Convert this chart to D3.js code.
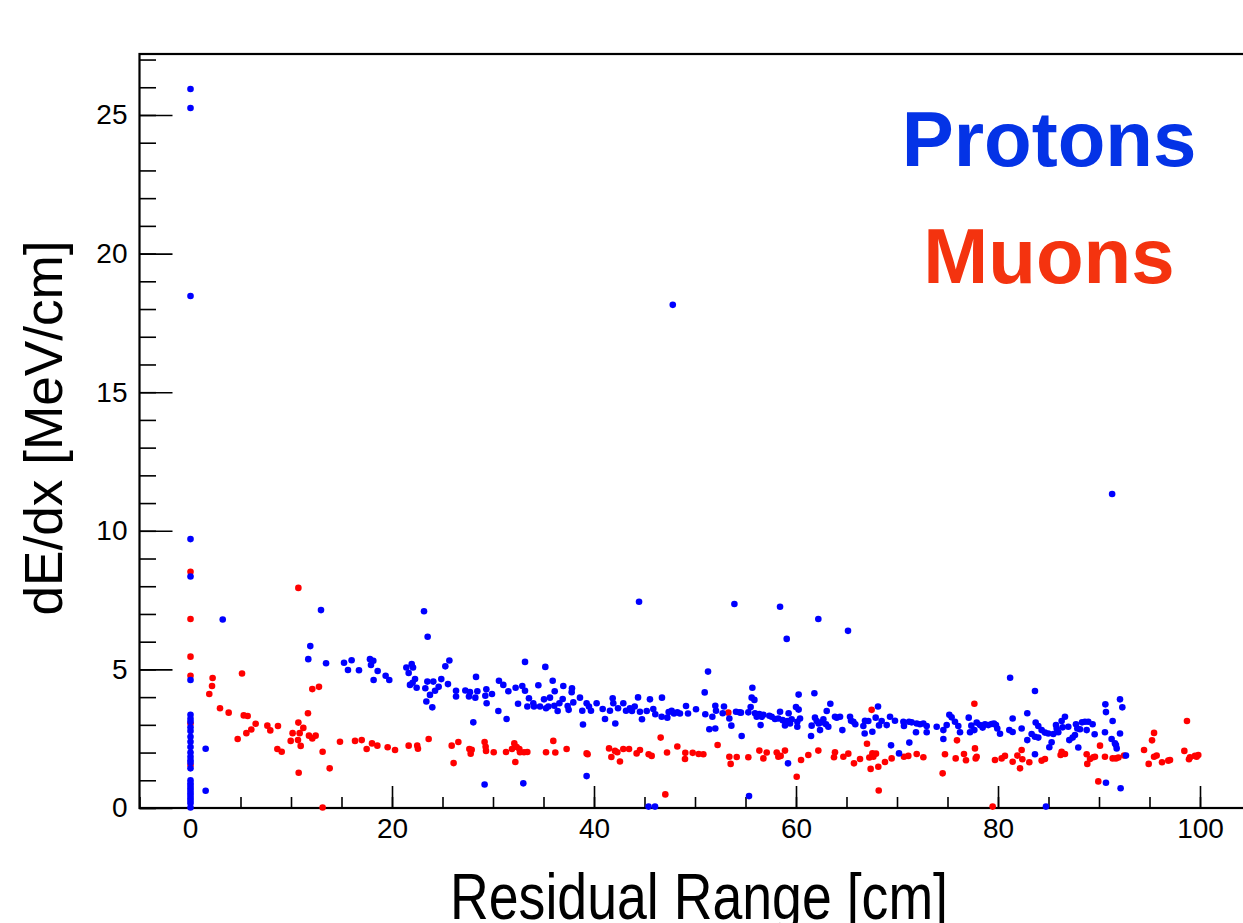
<!DOCTYPE html>
<html>
<head>
<meta charset="utf-8">
<script src="https://cdn.jsdelivr.net/npm/d3@7"></script>
<style>
  html, body { margin: 0; padding: 0; background: #fff; }
  svg { display: block; }
  text { font-family: "Liberation Sans", Arial, Helvetica, sans-serif; }
</style>
</head>
<body>
<div id="chart"></div>
<script>
var w = 1243, h = 923;

// residual range [cm], dE/dx [MeV/cm]
var protons = [
  [0.05,25.94],[0.05,25.25],[0.05,18.47],[0.05,9.70],[0.05,8.35],[0.05,4.62],[0.05,3.36],[0.05,3.22],[0.05,3.11],
  [0.05,2.91],[0.05,2.78],[0.05,2.57],[0.05,2.39],[0.05,2.2],[0.05,2.0],[0.05,1.85],[0.05,1.72],[0.05,1.63],[0.05,1.43],
  [0.05,1.0],[0.05,0.89],[0.05,0.8],[0.05,0.71],[0.05,0.62],[0.05,0.53],[0.05,0.44],[0.05,0.35],[0.05,0.26],[0.05,0.17],[0.05,0.02],
  [1.55,2.14],[1.55,0.62],[3.24,6.8],
  [12.97,7.14],[11.91,5.84],[11.71,5.37],[13.47,5.22],[15.25,5.24],[16.0,5.33],[15.64,4.98],[16.73,4.97],[17.82,5.37],
  [18.15,5.31],[17.92,5.16],[18.58,4.94],[18.18,4.62],[19.37,4.77],[19.73,4.62],[21.42,5.07],[21.95,5.19],[22.08,5.07],
  [21.65,4.87],[22.28,4.65],[21.78,4.44],[22.04,4.52],[22.44,4.34],[23.17,7.10],[23.53,6.18],
  [23.3,4.32],[23.5,4.56],[23.4,3.84],[23.76,4.08],[23.99,3.63],[24.09,4.56],[24.26,4.23],[24.62,4.37],[24.88,4.65],
  [25.28,5.11],[25.68,5.32],[25.54,4.47],[26.34,4.23],[26.34,4.02],[27.26,4.24],[27.62,4.02],[27.72,4.18],[28.25,3.98],
  [28.32,4.73],[28.45,4.21],[28.05,3.09],[29.24,4.05],[29.37,3.78],[29.34,4.28],[29.9,4.11],[30.53,3.50],[30.59,4.59],
  [31.02,4.44],[31.35,3.21],[31.52,4.21],[32.24,4.34],[32.48,3.76],[32.9,4.40],[33.17,4.23],[33.17,5.27],[33.4,3.66],
  [33.56,3.96],[33.99,3.78],[34.49,4.43],[34.06,3.66],[34.65,3.66],[35.05,3.92],[35.18,5.09],[35.25,3.60],[35.48,3.66],
  [35.64,3.98],[35.91,4.59],[36.11,4.21],[36.07,3.69],[36.4,3.50],[36.57,3.78],[36.9,3.93],[36.96,4.40],[37.39,3.68],
  [37.49,3.54],[37.79,4.18],[37.82,4.32],[37.95,3.81],[38.61,3.98],[38.91,3.01],[38.84,3.51],[39.27,3.78],[39.5,3.66],
  [39.7,3.51],[40.26,3.78],[40.86,3.57],[41.09,3.21],[41.58,3.51],[41.85,3.96],[41.91,3.78],[42.11,3.05],[42.38,3.60],
  [42.9,3.78],[43.17,3.51],[43.56,3.60],[43.76,3.50],[44.03,3.66],[44.36,3.99],[44.55,3.47],[44.75,3.20],[45.22,3.50],
  [45.54,3.92],[45.87,3.57],[46.07,3.38],[46.73,3.98],[46.7,3.29],[47.26,3.26],[47.39,3.46],[47.69,3.51],[47.92,3.41],
  [48.25,3.45],[48.51,3.41],[49.11,3.68],[49.31,3.41],[50.1,3.56],[50.96,4.17],[51.29,4.92],[51.02,3.38],[51.72,3.29],
  [51.42,2.84],[52.01,2.87],[52.01,3.69],[52.08,3.51],
  [39.27,1.15],[29.17,0.85],[33.0,0.89],[44.46,7.44],[45.4,0.05],[46.04,0.05],[47.8,18.15],
  [52.74,3.42],[52.87,3.66],[53.4,3.23],[53.6,2.97],[54.06,3.47],[54.39,3.45],[54.55,3.44],[55.28,3.45],[55.51,3.64],
  [55.68,4.34],[55.61,3.98],[55.88,3.90],[55.94,3.42],[56.11,3.29],[56.37,3.39],[56.5,2.99],[56.6,3.29],[56.77,3.36],
  [57.36,3.33],[57.59,3.29],[57.92,3.21],[58.25,3.23],[58.42,3.47],[58.68,3.17],[58.91,2.98],[59.14,3.14],[59.27,3.42],
  [59.41,3.05],[59.57,3.20],[60.0,3.64],[60.13,3.11],[60.26,3.55],[60.26,4.09],[60.4,3.23],[60.13,2.93],[61.55,2.97],
  [61.82,4.14],[61.88,3.26],[62.05,3.14],[62.24,3.05],[62.38,2.81],[62.57,3.09],[62.71,3.20],[62.97,3.02],[63.04,3.50],
  [63.2,2.93],[63.4,3.76],[63.86,3.29],[64.03,3.26],[64.36,3.29],[64.59,2.81],[65.35,3.29],[65.45,3.15],[65.68,3.11],
  [65.87,3.02],[66.67,2.96],[66.83,3.15],[66.8,2.69],[67.16,3.14],[67.56,2.75],[67.89,3.26],[68.12,3.66],[68.22,2.98],
  [68.48,3.14],[68.98,2.99],[69.31,3.29],[69.8,3.15],[70.63,3.11],[70.69,2.96],[71.19,3.11],[71.45,3.09],[71.88,2.73],
  [71.95,3.05],[72.28,3.02],[72.61,3.05],[72.94,2.96],[72.94,2.73],[73.93,2.93],[74.59,2.81],[74.92,2.99],[75.18,3.36],
  [75.41,3.27],[75.74,3.11],[76.07,2.96],[76.24,2.73],[77.1,3.26],[77.23,2.73],[77.36,2.97],[77.66,2.81],[77.89,3.08],
  [78.22,2.99],[78.48,2.90],[78.71,3.02],[79.04,2.99],[79.37,3.03],[79.6,3.05],[79.93,2.87],[80.2,2.68],[81.12,2.81],
  [53.9,7.36],[58.42,7.26],[59.08,6.10],[62.21,6.82],[65.15,6.39],[81.2,4.70],[55.35,0.43],[59.21,1.61],[54.62,2.60],
  [61.49,2.60],[69.41,2.26],[70.2,1.97],[71.22,2.36],[74.59,2.49],
  [83.66,4.22],[79.8,2.99],[81.45,3.23],[81.45,2.74],[82.34,2.87],[82.9,3.42],[82.9,2.45],[83.33,2.67],[83.66,2.57],
  [83.73,3.08],[83.99,2.96],[83.99,2.54],[84.32,2.81],[84.65,2.72],[84.98,2.69],[85.08,2.19],[85.31,2.37],[85.48,2.67],
  [85.74,2.99],[85.81,2.87],[85.97,2.73],[86.3,3.14],[86.4,2.91],[86.63,3.29],[86.96,2.93],[87.06,2.45],[87.39,2.54],
  [87.62,2.63],[87.72,3.02],[87.85,2.87],[87.95,2.18],[88.12,2.84],[88.32,3.09],[88.61,3.11],[88.78,2.81],[88.94,3.11],
  [89.37,3.02],[89.57,2.66],[90.63,3.74],[90.69,3.46],[90.59,2.73],[91.35,3.14],[91.25,2.49],[91.58,2.33],[91.75,2.15],
  [91.68,2.27],[92.08,3.92],[92.31,3.63],[92.08,2.69],[92.67,1.89],[90.69,0.91],[92.14,0.71],[84.75,0.05],[83.66,1.94],
  [91.3,11.33]
];

var muons = [
  [0.05,8.52],[0.05,6.82],[0.05,5.46],[0.05,4.77],[0.05,3.05],[0.05,1.55],
  [2.24,4.69],[2.18,4.40],[1.91,4.11],[2.97,3.60],[3.83,3.44],[5.15,4.85],[4.72,2.49],[5.32,3.34],[5.71,3.32],
  [5.58,2.70],[6.07,2.83],[6.50,3.04],[7.66,2.97],[7.95,2.80],[8.71,2.96],[8.65,2.13],[9.08,2.03],[9.97,2.42],
  [10.16,2.70],[10.73,7.94],[10.73,3.08],[10.69,2.45],[10.86,2.70],[11.22,2.89],[10.96,2.24],[10.76,1.27],[11.68,3.42],
  [11.78,2.61],[12.11,4.29],[12.77,4.37],[12.11,2.51],[12.44,2.61],[13.13,2.03],[13.83,1.43],[13.13,0.02],[14.85,2.39],
  [16.34,2.42],[17.0,2.45],[17.49,2.13],[18.02,2.33],[18.55,2.25],[19.57,2.19],[20.3,2.09],[21.65,2.25],[22.5,2.25],
  [22.57,2.14],[23.63,2.49],
  [25.91,2.25],[26.57,2.38],[26.1,1.62],[27.66,2.13],[27.89,2.10],[27.79,1.96],[29.17,2.38],[29.27,2.21],[29.31,2.06],
  [30.07,2.01],[31.29,2.02],[31.88,2.13],[32.11,2.33],[32.34,2.20],[32.21,1.66],[32.61,2.13],[32.67,2.01],[33.07,2.01],
  [33.4,2.02],[35.25,2.01],[35.97,2.42],[36.17,2.0],[37.29,2.13],[39.27,1.97],[39.37,1.94],[41.49,2.15],[42.08,2.06],
  [41.72,1.84],[42.31,2.01],[42.57,1.68],[42.9,2.13],[43.47,2.13],[44.22,1.97],[44.55,2.09],[45.41,1.94],[45.71,1.88],
  [46.6,2.54],[47.23,2.0],[47.06,0.49],[48.25,2.22],[49.04,1.99],[49.01,1.77],[49.77,1.99],[50.36,1.95],[50.83,1.94],
  [52.24,2.27],
  [53.3,3.44],[53.4,1.85],[53.53,1.59],[54.13,1.84],[55.28,1.83],[56.37,2.07],[56.77,1.79],[57.1,2.0],[58.09,2.0],
  [58.25,1.85],[58.48,1.88],[58.91,2.07],[60.07,1.13],[60.5,1.73],[61.22,1.91],[62.21,2.07],[63.76,1.83],[63.86,2.01],
  [64.69,1.85],[65.18,1.96],[65.74,1.61],[66.34,1.77],[67.03,2.32],[67.26,1.82],[67.39,1.41],[67.56,1.97],[67.66,1.85],
  [67.92,1.96],[68.15,1.49],[68.19,0.63],[67.49,3.54],[68.81,1.66],[69.47,1.79],[70.69,1.85],[71.12,1.88],[71.95,1.95],
  [72.61,1.83],[74.52,1.25],[74.75,1.94],[75.81,1.79],[75.94,2.44],[76.63,1.95],[76.83,1.72],[77.66,3.76],[77.72,2.15],
  [77.79,1.79],[77.89,1.85],[79.47,0.05],[79.7,1.73],[80.36,1.79],[80.69,1.88],
  [81.45,1.67],[81.92,1.89],[82.34,2.09],[82.41,1.76],[82.18,1.43],[83.1,1.65],[84.32,1.71],[84.65,1.77],[86.2,1.91],
  [86.3,2.03],[86.63,1.95],[88.78,1.94],[88.84,1.59],[89.11,1.77],[89.44,1.83],[89.6,1.85],[90.1,2.25],[90.59,1.85],
  [91.35,1.79],[91.68,1.79],[91.92,1.82],[92.48,1.89],[89.93,0.96],[94.46,2.09],[94.92,1.59],[95.25,2.44],[95.45,2.71],
  [95.45,1.85],[95.71,1.89],[96.24,1.65],[96.86,1.71],[97.03,1.73],[98.45,2.06],[98.71,3.14],[98.91,1.76],[99.01,1.83],
  [99.5,1.88],[99.83,1.91],[99.67,1.85]
];

var xMajorTicks = [0, 20, 40, 60, 80, 100];
var yMajorTicks = [0, 5, 10, 15, 20, 25];
var xLabel = "Residual Range [cm]";
var yLabel = "dE/dx [MeV/cm]";
var legendLabels = ["Protons", "Muons"];

function drawChart() {
    var svg = d3.select("#chart")
        .append("svg")
        .attr("width", w)
        .attr("height", h);

    svg.append("rect").attr("width", w).attr("height", h).attr("fill", "#fff");

    var left = 139.5, right = 1250.5, top = 54, bottom = 808;
    var x = d3.scaleLinear().domain([-5, 105]).range([left, right]);
    var y = d3.scaleLinear().domain([0, 27.2]).range([bottom, top]);

    // frame
    svg.append("rect")
        .attr("x", left).attr("y", top)
        .attr("width", right - left).attr("height", bottom - top)
        .attr("fill", "none").attr("stroke", "#000").attr("stroke-width", 2.2);

    // minor ticks (inside the frame, ROOT style)
    var xMinor = d3.range(-5, 106, 5);
    var yMinor = d3.range(0, 28, 1);

    svg.append("g")
        .attr("transform", `translate(0,${bottom})`)
        .call(d3.axisBottom(x).tickValues(xMinor).tickSize(-11).tickFormat(""))
        .call(g => g.select(".domain").remove());

    svg.append("g")
        .attr("transform", `translate(${left},0)`)
        .call(d3.axisLeft(y).tickValues(yMinor).tickSize(-16.5).tickFormat(""))
        .call(g => g.select(".domain").remove());

    // major ticks + labels
    var xAxis = svg.append("g")
        .attr("transform", `translate(0,${bottom})`)
        .call(d3.axisBottom(x).tickValues(xMajorTicks).tickSize(-22).tickPadding(10).tickFormat(d3.format("d")));
    xAxis.select(".domain").remove();

    var yAxis = svg.append("g")
        .attr("transform", `translate(${left},0)`)
        .call(d3.axisLeft(y).tickValues(yMajorTicks).tickSize(-33).tickPadding(12).tickFormat(d3.format("d")));
    yAxis.select(".domain").remove();

    svg.selectAll(".tick line").attr("stroke", "#000").attr("stroke-width", 1.6);
    svg.selectAll(".tick text")
        .attr("font-family", "'Liberation Sans', Arial, sans-serif")
        .attr("font-size", "28px")
        .attr("fill", "#000");

    // points: muons first, protons on top
    svg.append("g").selectAll("circle")
        .data(muons)
        .enter()
        .append("circle")
        .attr("cx", d => x(d[0]))
        .attr("cy", d => y(d[1]))
        .attr("r", 3.3)
        .attr("fill", "#ff0000");

    svg.append("g").selectAll("circle")
        .data(protons)
        .enter()
        .append("circle")
        .attr("cx", d => x(d[0]))
        .attr("cy", d => y(d[1]))
        .attr("r", 3.3)
        .attr("fill", "#0000ff");

    // axis titles
    svg.append("text")
        .text(xLabel)
        .attr("x", 699)
        .attr("y", 919)
        .attr("text-anchor", "middle")
        .attr("font-size", "64px")
        .attr("textLength", 498)
        .attr("lengthAdjust", "spacingAndGlyphs");

    svg.append("text")
        .text(yLabel)
        .attr("transform", "translate(62,428) rotate(-90)")
        .attr("text-anchor", "middle")
        .attr("font-size", "54px")
        .attr("textLength", 375)
        .attr("lengthAdjust", "spacingAndGlyphs");

    // labels in the plot
    var legendColors = ["#0433e6", "#f4330f"];
    var legendY = [166, 283];
    svg.selectAll("text.legend")
        .data(legendLabels)
        .enter()
        .append("text")
        .attr("class", "legend")
        .text(d => d)
        .attr("x", 1049)
        .attr("y", (d, i) => legendY[i])
        .attr("text-anchor", "middle")
        .attr("font-size", "78px")
        .attr("font-weight", "bold")
        .attr("fill", (d, i) => legendColors[i]);
}

window.onload = drawChart;
</script>
</body>
</html>
